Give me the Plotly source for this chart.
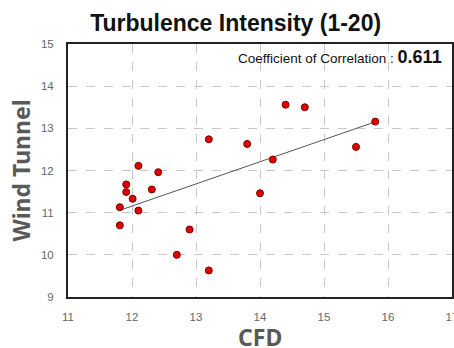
import numpy as np
import plotly.graph_objects as go

# CFD vs wind-tunnel turbulence intensity at 20 measurement points
cfd = [13.20, 12.10, 12.41, 11.91, 11.91, 12.31, 12.01, 11.81, 12.10, 11.81,
       12.90, 12.70, 13.20, 13.80, 14.20, 14.40, 14.70, 15.80, 15.50, 14.00]
wind_tunnel = [12.74, 12.11, 11.96, 11.67, 11.49, 11.55, 11.33, 11.13, 11.05, 10.70,
               10.60, 10.00, 9.63, 12.63, 12.26, 13.56, 13.50, 13.16, 12.56, 11.46]
correlation_label = "0.611"
x_ticks = [11, 12, 13, 14, 15, 16, 17]
y_ticks = [9, 10, 11, 12, 13, 14, 15]

# least-squares trend line across the CFD range
slope, intercept = np.polyfit(cfd, wind_tunnel, 1)
fit_x = np.array([min(cfd), max(cfd)])
fit_y = slope * fit_x + intercept

fig = go.Figure()
fig.add_trace(go.Scatter(x=fit_x, y=fit_y, mode="lines",
                         line=dict(color="#555555", width=1), hoverinfo="skip"))
fig.add_trace(go.Scatter(x=cfd, y=wind_tunnel, mode="markers",
                         marker=dict(color="#e00000", size=7,
                                     line=dict(color="#7a0000", width=1))))

tick_font = dict(family="Liberation Sans, Arial, sans-serif", size=11.5, color="#666666")
title_font = dict(family="Noto Sans, sans-serif", size=23, color="#595959")

fig.update_layout(
    width=454, height=348,
    margin=dict(l=68, r=2, t=44, b=51, autoexpand=False),
    paper_bgcolor="white", plot_bgcolor="white",
    showlegend=False,
    title=dict(text="<b>Turbulence Intensity (1-20)</b>", x=0.519, xanchor="center",
               y=0.935, yanchor="middle",
               font=dict(family="Liberation Sans, Arial, sans-serif", size=23, color="#111111")),
    xaxis=dict(range=[11, 17], tickvals=x_ticks, tickfont=tick_font,
               showgrid=True, gridcolor="#c8c8c8", griddash="dash", gridwidth=1,
               zeroline=False, showline=True, linecolor="#222222", linewidth=2,
               mirror=True, ticks="", ticklabelstandoff=8, ticklabeloverflow="allow",
               automargin=False),
    yaxis=dict(range=[9, 15], tickvals=y_ticks, tickfont=tick_font,
               showgrid=True, gridcolor="#c8c8c8", griddash="dash", gridwidth=1,
               zeroline=False, showline=True, linecolor="#222222", linewidth=2,
               mirror=True, ticks="", ticklabelstandoff=10, ticklabeloverflow="allow",
               automargin=False,
               title=dict(text="<b>Wind Tunnel</b>", font=title_font, standoff=4)),
    annotations=[
        dict(text="Coefficient of Correlation : <b><span style='font-size:18px'>"
                  + correlation_label + "</span></b>",
             x=0.98, y=0.95, xref="paper", yref="paper", xanchor="right", yanchor="middle",
             showarrow=False,
             font=dict(family="Liberation Sans, Arial, sans-serif", size=13.5, color="#111111")),
        # x-axis title, set a little further below the tick labels
        dict(text="<b>CFD</b>", x=0.5, y=0, xref="paper", yref="paper",
             xanchor="center", yanchor="middle", yshift=-40, showarrow=False,
             font=title_font),
    ],
)

fig.write_html("out.html")
